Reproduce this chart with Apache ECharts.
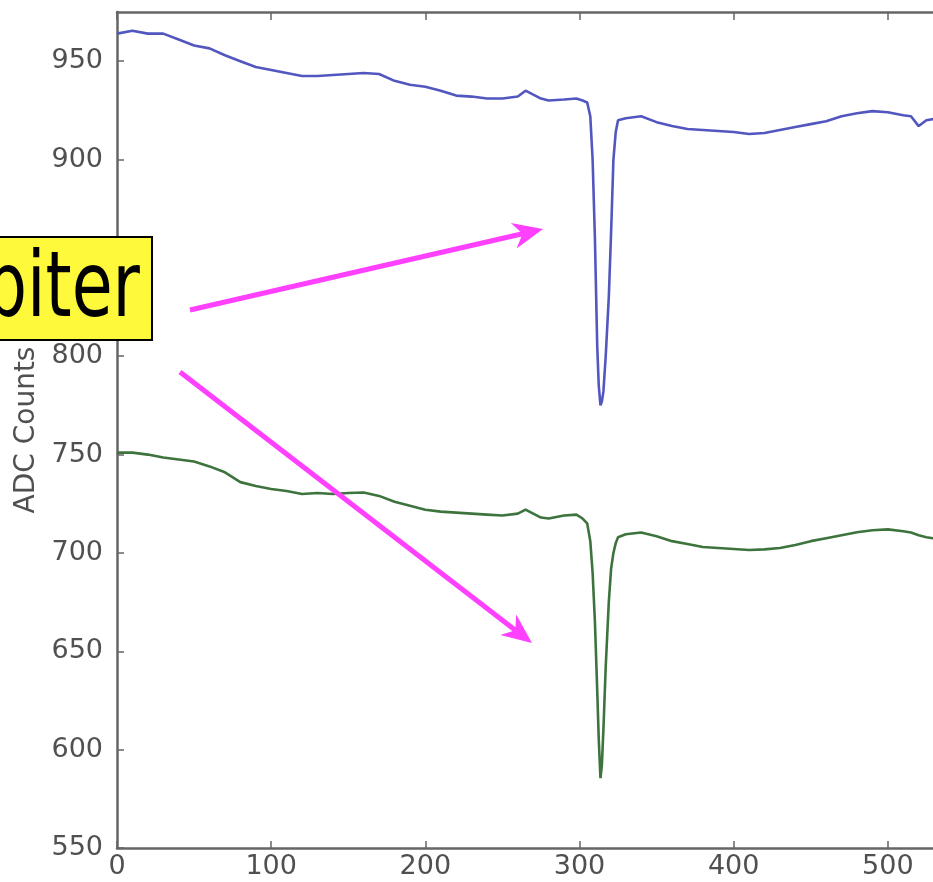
<!DOCTYPE html>
<html>
<head>
<meta charset="utf-8">
<script src="https://cdn.jsdelivr.net/npm/echarts@6/dist/echarts.min.js"></script>
<style>
html,body{margin:0;padding:0;background:#fff;}
#chart{width:933px;height:882px;}
</style>
</head>
<body>
<div id="chart"></div>
<script>
// Sample positions (x axis)
const sampleX = [0,10,20,30,40,50,60,70,80,90,100,110,120,130,140,150,160,170,180,190,200,210,220,230,240,250,260,265,270,275,280,290,298,302,305,307,308.5,310,311.5,312.5,313.6,314.5,315.5,317,319,320.5,322,323.5,325,330,340,350,360,370,380,390,400,410,420,430,440,450,460,470,480,490,500,510,515,520,525,530,540,550];
// Upper trace (blue)
const blueCounts = [964,965.5,964,964,961,958,956.5,953,950,947,945.5,944,942.5,942.5,943,943.5,944,943.5,940,938,937,935,932.5,932,931,931,932,935,933,931,930,930.5,931,930,929,922,900,860,805,785,775,777,782,800,830,863,900,914,920,921,922,919,917,915.5,915,914.5,914,913,913.5,915,916.5,918,919.5,922,923.5,924.6,924,922.5,922,917,920,920.6,920,920];
// Lower trace (green)
const greenCounts = [751,751,750,748.5,747.5,746.5,744,741,736,734,732.5,731.5,730,730.5,730,730.5,730.7,729,726,724,722,721,720.5,720,719.5,719,720,722,720,718,717.5,719,719.5,717.5,715,706,690,665,630,605,585.5,592,610,642,675,692,700,705,708,709.5,710.4,708.5,706,704.5,703,702.5,702,701.5,701.8,702.5,704,706,707.5,709,710.5,711.5,712,711,710.4,709,708,707.4,707,707];
const yTicks = {min:550, max:975, interval:50};
const xTicks = {min:0, max:600, interval:100};
const annotationText = 'Jupiter';

const chart = echarts.init(document.getElementById('chart'), null, {renderer:'canvas'});
const axisGray = '#666666';
const labelGray = '#505050';
const fontFam = 'DejaVu Sans';

function arrow(x1,y1,x2,y2,color){
  const dx=x2-x1, dy=y2-y1, L=Math.hypot(dx,dy), ux=dx/L, uy=dy/L, px=-uy, py=ux;
  const hl=30, hw=13, notch=9;
  const bx=x2-ux*hl, by=y2-uy*hl;
  const nx=x2-ux*(hl-notch), ny=y2-uy*(hl-notch);
  return [
    {type:'line', z:100, shape:{x1:x1,y1:y1,x2:nx,y2:ny}, style:{stroke:color, lineWidth:5}},
    {type:'polygon', z:100, shape:{points:[[x2,y2],[bx+px*hw,by+py*hw],[nx,ny],[bx-px*hw,by-py*hw]]}, style:{fill:color}}
  ];
}
const magenta = '#ff40ff';

const option = {
  backgroundColor:'#ffffff',
  animation:false,
  grid:{left:117, top:12, width:925, height:836, containLabel:false, outerBoundsMode:'none'},
  xAxis:[{
    type:'value', min:xTicks.min, max:xTicks.max, interval:xTicks.interval,
    position:'bottom',
    axisLine:{show:true, lineStyle:{color:axisGray, width:2.5}},
    axisTick:{show:true, inside:true, length:7, lineStyle:{color:axisGray, width:1.5}},
    axisLabel:{show:true, color:labelGray, fontSize:27, fontFamily:fontFam, margin:5},
    splitLine:{show:false}
  },{
    type:'value', min:xTicks.min, max:xTicks.max, interval:xTicks.interval,
    position:'top',
    axisLine:{show:true, lineStyle:{color:axisGray, width:2.5}},
    axisTick:{show:true, inside:true, length:8, lineStyle:{color:axisGray, width:1.5}},
    axisLabel:{show:false},
    splitLine:{show:false}
  }],
  yAxis:[{
    type:'value', min:yTicks.min, max:yTicks.max, interval:yTicks.interval,
    name:'ADC Counts', nameLocation:'middle', nameRotate:90, nameGap:76,
    nameTextStyle:{color:labelGray, fontSize:28, fontFamily:fontFam},
    axisLine:{show:true, lineStyle:{color:axisGray, width:2.5}},
    axisTick:{show:true, inside:true, length:7, lineStyle:{color:axisGray, width:1.5}},
    axisLabel:{show:true, color:labelGray, fontSize:27, fontFamily:fontFam, margin:14, showMaxLabel:false},
    splitLine:{show:false}
  }],
  series:[{
    type:'line', name:'blue', showSymbol:false, symbol:'none',
    data: sampleX.map((x,i)=>[x, blueCounts[i]]),
    lineStyle:{color:'#5256bf', width:2.6},
    clip:true
  },{
    type:'line', name:'green', showSymbol:false, symbol:'none',
    data: sampleX.map((x,i)=>[x, greenCounts[i]]),
    lineStyle:{color:'#3d733d', width:2.6},
    clip:true
  }],
  graphic:[
    {type:'rect', z:90, shape:{x:-10, y:237, width:162, height:103}, style:{fill:'#fff93c', stroke:'#000', lineWidth:2}},
    {type:'text', z:95, x:140, y:293, scaleX:0.74, style:{text:annotationText, x:0, y:0, align:'right', verticalAlign:'middle', fontSize:90, fontFamily:fontFam, fill:'#000'}},
    ...arrow(190,310,543,229,magenta),
    ...arrow(180,372,532,643,magenta)
  ]
};
chart.setOption(option);
</script>
</body>
</html>
